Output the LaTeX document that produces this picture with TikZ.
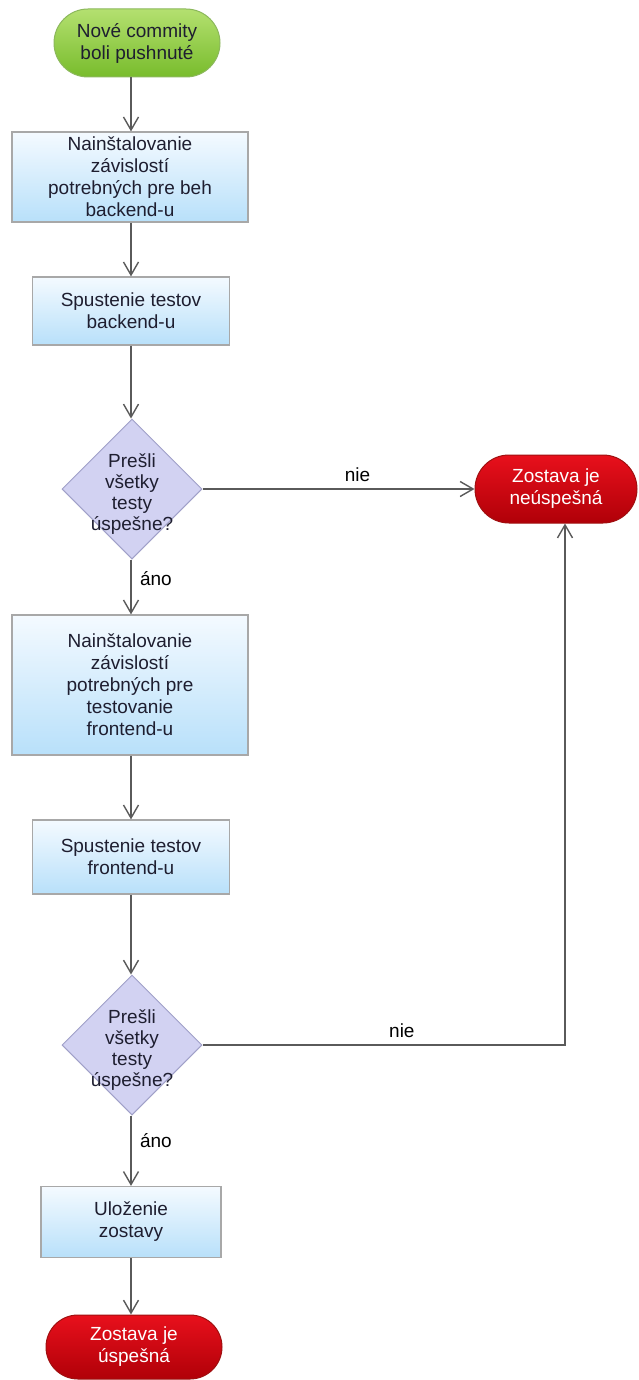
\documentclass[tikz,border=0pt]{standalone}
\usepackage{fontspec}
\setmainfont{Liberation Sans}
\usetikzlibrary{shapes.geometric,shapes.misc,arrows.meta}
\definecolor{txt}{HTML}{1E1E30}
\definecolor{linec}{HTML}{5A5A5A}
\definecolor{boxborder}{HTML}{A8A8A8}
\definecolor{boxtop}{HTML}{F4FAFF}
\definecolor{boxbot}{HTML}{B8E0FA}
\definecolor{greentop}{HTML}{B4E070}
\definecolor{greenbot}{HTML}{78BC2C}
\definecolor{greenborder}{HTML}{8CB85C}
\definecolor{redtop}{HTML}{E8101C}
\definecolor{redbot}{HTML}{B00008}
\definecolor{redborder}{HTML}{A01010}
\definecolor{diafill}{HTML}{D2D2F2}
\definecolor{diaborder}{HTML}{A0A0C8}
\tikzset{
  base/.style={font=\fontsize{19}{22}\selectfont, align=center, inner sep=0pt},
  procbox/.style={base, rectangle, draw=boxborder, line width=1.2pt, top color=boxtop, bottom color=boxbot, text=txt},
  startterm/.style={base, rounded rectangle, draw=greenborder, line width=1pt, top color=greentop, bottom color=greenbot, text=txt},
  endterm/.style={base, rounded rectangle, draw=redborder, line width=1pt, top color=redtop, bottom color=redbot, text=white},
  dia/.style={diamond, draw=diaborder, line width=1pt, fill=diafill, minimum width=140pt, minimum height=140pt, inner sep=0pt},
  diatext/.style={base, text=txt, font=\fontsize{19}{21}\selectfont},
  conn/.style={draw=linec, line width=2.2pt, -{Straight Barb[length=13pt,width=15pt,line width=1.4pt]}},
  lbl/.style={font=\fontsize{19}{22}\selectfont, text=black, inner sep=0pt}
}
\begin{document}
\begin{tikzpicture}[x=1pt,y=-1pt]
\useasboundingbox[fill=white] (0,0) rectangle (639,1380);

\node[startterm, minimum width=166pt, minimum height=68pt] (start) at (137,43) {Nové commity\\boli pushnuté};
\node[procbox, minimum width=236pt, minimum height=90pt] (b1) at (130,177) {Nainštalovanie\\závislostí\\potrebných pre beh\\backend-u};
\node[procbox, minimum width=197pt, minimum height=68pt] (b2) at (131,311) {Spustenie testov\\backend-u};
\node[dia] (d1) at (132,489) {};
\node[diatext] (d1t) at (132,494) {Prešli\\všetky\\testy\\úspešne?};
\node[endterm, minimum width=162pt, minimum height=68pt] (fail) at (556,489) {Zostava je\\neúspešná};
\node[procbox, minimum width=236pt, minimum height=140pt] (b3) at (130,685) {Nainštalovanie\\závislostí\\potrebných pre\\testovanie\\frontend-u};
\node[procbox, minimum width=197pt, minimum height=74pt] (b4) at (131,857) {Spustenie testov\\frontend-u};
\node[dia] (d2) at (132,1045) {};
\node[diatext] (d2t) at (132,1050) {Prešli\\všetky\\testy\\úspešne?};
\node[procbox, minimum width=180pt, minimum height=71pt] (b5) at (131,1222) {Uloženie\\zostavy};
\node[endterm, minimum width=176pt, minimum height=64pt] (ok) at (134,1347) {Zostava je\\úspešná};

\coordinate (c1) at (131,0);
\draw[conn] (start.south -| c1) -- (b1.north -| c1);
\draw[conn] (b1.south -| c1) -- (b2.north -| c1);
\draw[conn] (b2.south -| c1) -- (d1.north -| c1);
\draw[conn] (d1.east) -- node[lbl, above=6pt, pos=0.57] (n1) {nie} (fail.west);
\draw[conn] (d1.south -| c1) -- node[lbl, right=8pt, pos=0.35] (a1) {áno} (b3.north -| c1);
\draw[conn] (b3.south -| c1) -- (b4.north -| c1);
\draw[conn] (b4.south -| c1) -- (d2.north -| c1);
\coordinate (corner) at (565,1045);
\draw[conn] (d2.east) -- node[lbl, above=6pt, pos=0.55] (n2) {nie} (corner) -- (corner |- fail.south);
\draw[conn] (d2.south -| c1) -- node[lbl, right=8pt, pos=0.35] (a2) {áno} (b5.north -| c1);
\draw[conn] (b5.south -| c1) -- (ok.north -| c1);
\end{tikzpicture}
\end{document}
